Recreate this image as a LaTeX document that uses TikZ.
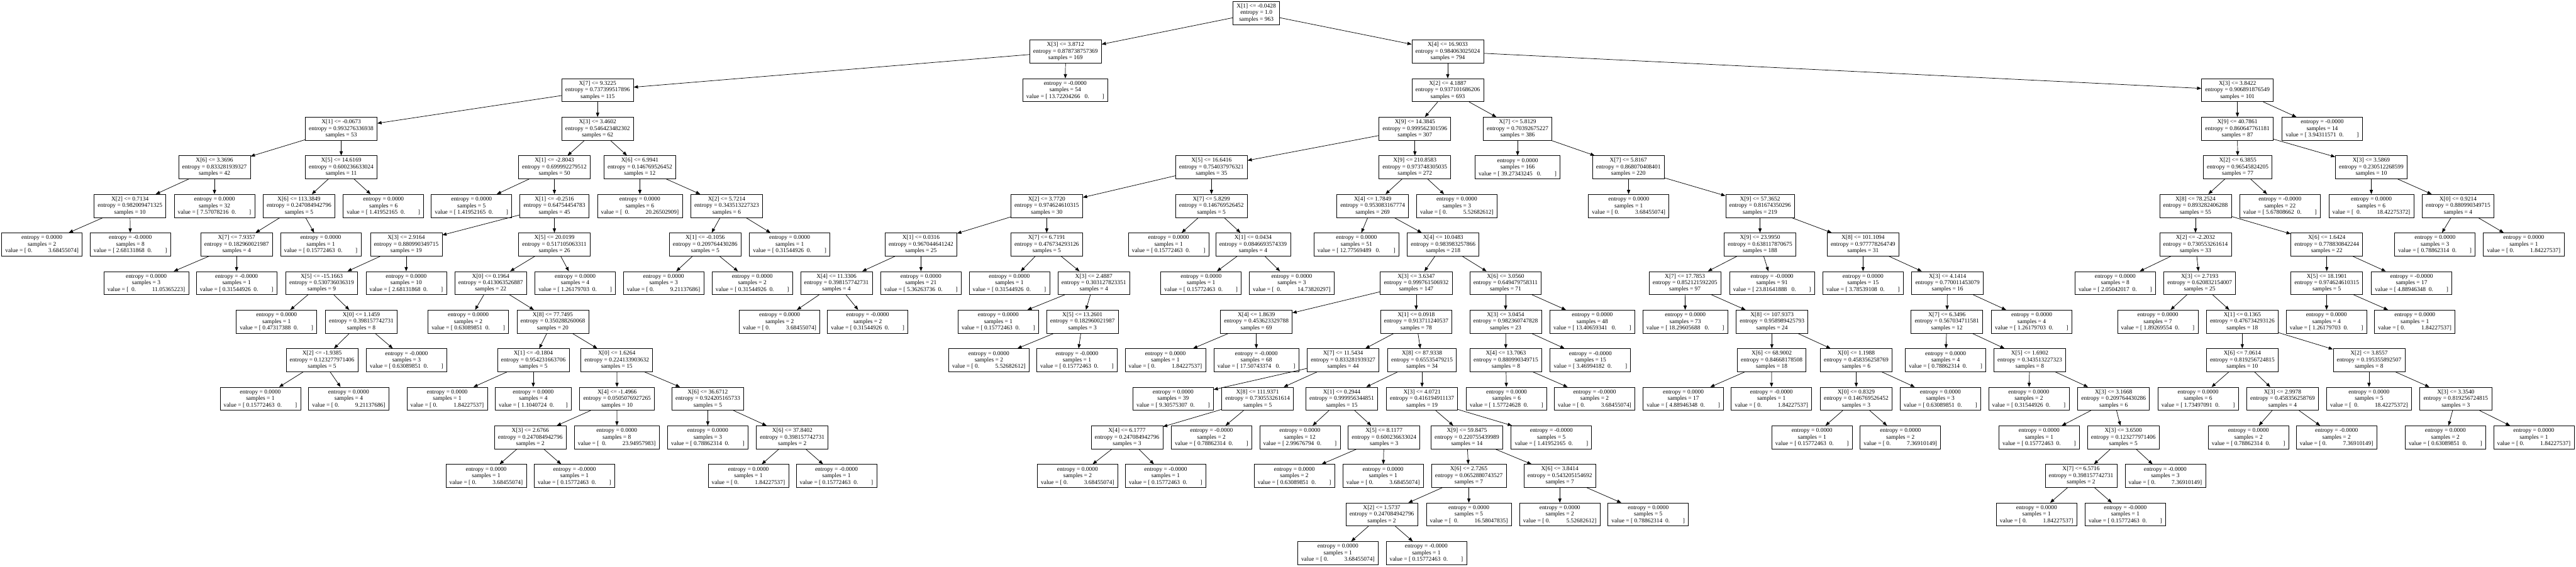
\documentclass[tikz,border=0pt]{standalone}
\usepackage{fontspec}
\setmainfont{Liberation Serif}
\usepackage{tikz}
\usetikzlibrary{arrows.meta}

\newcommand{\cnd}[4]{X[#1] <= #2\\entropy = #3\\samples = #4}
\newcommand{\lfs}[3]{entropy = #1\\samples = #2\\#3}
\newcommand{\vL}[1]{value = [ #1\hspace{.5em}0.\hspace{2.2em}]}
\newcommand{\vLw}[1]{value = [ #1\hspace{.75em}0.\hspace{2.2em}]}
\newcommand{\vR}[1]{value = [ 0.\hspace{2.7em}#1]}
\newcommand{\vRw}[1]{value = [\hspace{.25em} 0.\hspace{2.7em}#1]}

\tikzset{
  cond/.style={draw, rectangle, align=center, inner xsep=0.11cm, inner ysep=0.02cm,
    minimum height=0.71cm, line width=0.4pt, font=\fontsize{5.2}{5.74}\selectfont},
  leaf/.style={cond},
  arr/.style={-{Triangle[length=0.13cm,width=0.1cm]}, line width=0.4pt}
}

\begin{document}
\begin{tikzpicture}[x=0.01cm, y=-1.187cm]
\useasboundingbox (0,-0.337) rectangle (7927,14.347);

% root and first split
\node[cond] (n0) at (3866,0) {\cnd{1}{-0.0428}{1.0}{963}};
\node[cond] (n1) at (3279,1) {\cnd{3}{3.8712}{0.878738757369}{169}};
\draw[arr] (n0) -- (n1);
\node[cond] (n2) at (1839,2) {\cnd{7}{9.3225}{0.737399517896}{115}};
\draw[arr] (n1) -- (n2);
\node[cond] (n3) at (1050,3) {\cnd{1}{-0.0673}{0.993276336938}{53}};
\draw[arr] (n2) -- (n3);
\node[cond] (n4) at (660,4) {\cnd{6}{3.3696}{0.833281939327}{42}};
\draw[arr] (n3) -- (n4);
\node[cond] (n5) at (400,5) {\cnd{2}{0.7134}{0.982009471325}{10}};
\draw[arr] (n4) -- (n5);
\node[leaf] (n6) at (129,6) {\lfs{0.0000}{2}{\vR{3.68455074}}};
\draw[arr] (n5) -- (n6);
\node[leaf] (n7) at (401,6) {\lfs{-0.0000}{8}{\vL{2.68131868}}};
\draw[arr] (n5) -- (n7);
\node[leaf] (n8) at (660,5) {\lfs{0.0000}{32}{\vL{7.57078216}}};
\draw[arr] (n4) -- (n8);
\node[cond] (n9) at (1050,4) {\cnd{5}{14.6169}{0.600236633024}{11}};
\draw[arr] (n3) -- (n9);
\node[cond] (n10) at (920,5) {\cnd{6}{113.3849}{0.247084942796}{5}};
\draw[arr] (n9) -- (n10);
\node[cond] (n11) at (728,6) {\cnd{7}{7.9357}{0.182960021987}{4}};
\draw[arr] (n10) -- (n11);
\node[leaf] (n12) at (450,7) {\lfs{0.0000}{3}{\vRw{11.05365223}}};
\draw[arr] (n11) -- (n12);
\node[leaf] (n13) at (728,7) {\lfs{-0.0000}{1}{\vL{0.31544926}}};
\draw[arr] (n11) -- (n13);
\node[leaf] (n14) at (987,6) {\lfs{0.0000}{1}{\vL{0.15772463}}};
\draw[arr] (n10) -- (n14);
\node[leaf] (n15) at (1180,5) {\lfs{0.0000}{6}{\vL{1.41952165}}};
\draw[arr] (n9) -- (n15);
\node[cond] (n16) at (1839,3) {\cnd{3}{3.4602}{0.546423482302}{62}};
\draw[arr] (n2) -- (n16);
\node[cond] (n17) at (1706,4) {\cnd{1}{-2.8043}{0.699992279512}{50}};
\draw[arr] (n16) -- (n17);
\node[leaf] (n18) at (1451,5) {\lfs{0.0000}{5}{\vL{1.41952165}}};
\draw[arr] (n17) -- (n18);
\node[cond] (n19) at (1706,5) {\cnd{1}{-0.2516}{0.64754454783}{45}};
\draw[arr] (n17) -- (n19);
\node[cond] (n20) at (1250,6) {\cnd{3}{2.9164}{0.880990349715}{19}};
\draw[arr] (n19) -- (n20);
\node[cond] (n21) at (990,7) {\cnd{5}{-15.1663}{0.530736036319}{9}};
\draw[arr] (n20) -- (n21);
\node[leaf] (n22) at (851,8) {\lfs{0.0000}{1}{\vL{0.47317388}}};
\draw[arr] (n21) -- (n22);
\node[cond] (n23) at (1112,8) {\cnd{0}{1.1459}{0.398157742731}{8}};
\draw[arr] (n21) -- (n23);
\node[cond] (n24) at (991,9) {\cnd{2}{-1.9385}{0.123277971406}{5}};
\draw[arr] (n23) -- (n24);
\node[leaf] (n25) at (801,10) {\lfs{0.0000}{1}{\vL{0.15772463}}};
\draw[arr] (n24) -- (n25);
\node[leaf] (n26) at (1073,10) {\lfs{0.0000}{4}{\vR{9.21137686}}};
\draw[arr] (n24) -- (n26);
\node[leaf] (n27) at (1251,9) {\lfs{-0.0000}{3}{\vL{0.63089851}}};
\draw[arr] (n23) -- (n27);
\node[leaf] (n28) at (1250,7) {\lfs{0.0000}{10}{\vL{2.68131868}}};
\draw[arr] (n20) -- (n28);
\node[cond] (n29) at (1706,6) {\cnd{5}{20.0199}{0.517105063311}{26}};
\draw[arr] (n19) -- (n29);
\node[cond] (n30) at (1510,7) {\cnd{0}{0.1964}{0.413063526887}{22}};
\draw[arr] (n29) -- (n30);
\node[leaf] (n31) at (1441,8) {\lfs{0.0000}{2}{\vL{0.63089851}}};
\draw[arr] (n30) -- (n31);
\node[cond] (n32) at (1701,8) {\cnd{8}{77.7495}{0.350288260068}{20}};
\draw[arr] (n30) -- (n32);
\node[cond] (n33) at (1641,9) {\cnd{1}{-0.1804}{0.954231663706}{5}};
\draw[arr] (n32) -- (n33);
\node[leaf] (n34) at (1376,10) {\lfs{0.0000}{1}{\vR{1.84227537}}};
\draw[arr] (n33) -- (n34);
\node[leaf] (n35) at (1641,10) {\lfs{0.0000}{4}{value = [ 1.1040724\hspace{.5em}0.\hspace{1.95em}]}};
\draw[arr] (n33) -- (n35);
\node[cond] (n36) at (1898,9) {\cnd{0}{1.6264}{0.224133903632}{15}};
\draw[arr] (n32) -- (n36);
\node[cond] (n37) at (1899,10) {\cnd{4}{-1.4966}{0.0505076927265}{10}};
\draw[arr] (n36) -- (n37);
\node[cond] (n38) at (1632,11) {\cnd{3}{2.6766}{0.247084942796}{2}};
\draw[arr] (n37) -- (n38);
\node[leaf] (n39) at (1496,12) {\lfs{0.0000}{1}{\vR{3.68455074}}};
\draw[arr] (n38) -- (n39);
\node[leaf] (n40) at (1768,12) {\lfs{-0.0000}{1}{\vL{0.15772463}}};
\draw[arr] (n38) -- (n40);
\node[leaf] (n41) at (1898,11) {\lfs{0.0000}{8}{\vRw{23.94957983}}};
\draw[arr] (n37) -- (n41);
\node[cond] (n42) at (2178,10) {\cnd{6}{36.6712}{0.924205165733}{5}};
\draw[arr] (n36) -- (n42);
\node[leaf] (n43) at (2178,11) {\lfs{0.0000}{3}{\vL{0.78862314}}};
\draw[arr] (n42) -- (n43);
\node[cond] (n44) at (2438,11) {\cnd{6}{37.8402}{0.398157742731}{2}};
\draw[arr] (n42) -- (n44);
\node[leaf] (n45) at (2303,12) {\lfs{0.0000}{1}{\vR{1.84227537}}};
\draw[arr] (n44) -- (n45);
\node[leaf] (n46) at (2574,12) {\lfs{-0.0000}{1}{\vL{0.15772463}}};
\draw[arr] (n44) -- (n46);
\node[leaf] (n47) at (1770,7) {\lfs{0.0000}{4}{\vL{1.26179703}}};
\draw[arr] (n29) -- (n47);
\node[cond] (n48) at (1969,4) {\cnd{6}{6.9941}{0.146769526452}{12}};
\draw[arr] (n16) -- (n48);
\node[leaf] (n49) at (1969,5) {\lfs{0.0000}{6}{\vRw{20.26502909}}};
\draw[arr] (n48) -- (n49);
\node[cond] (n50) at (2236,5) {\cnd{2}{5.7214}{0.343513227323}{6}};
\draw[arr] (n48) -- (n50);
\node[cond] (n51) at (2170,6) {\cnd{1}{-0.1056}{0.209764430286}{5}};
\draw[arr] (n50) -- (n51);
\node[leaf] (n52) at (2042,7) {\lfs{0.0000}{3}{\vR{9.21137686}}};
\draw[arr] (n51) -- (n52);
\node[leaf] (n53) at (2315,7) {\lfs{0.0000}{2}{\vL{0.31544926}}};
\draw[arr] (n51) -- (n53);
\node[leaf] (n54) at (2430,6) {\lfs{0.0000}{1}{\vL{0.31544926}}};
\draw[arr] (n50) -- (n54);
\node[leaf] (n55) at (3278,2) {\lfs{-0.0000}{54}{\vLw{13.72204266}}};
\draw[arr] (n1) -- (n55);

% right half
\node[cond] (n56) at (4455,1) {\cnd{4}{16.9033}{0.984063025024}{794}};
\draw[arr] (n0) -- (n56);
\node[cond] (n57) at (4455,2) {\cnd{2}{4.1887}{0.937101686206}{693}};
\draw[arr] (n56) -- (n57);
\node[cond] (n58) at (4354,3) {\cnd{9}{14.3845}{0.999562301596}{307}};
\draw[arr] (n57) -- (n58);
\node[cond] (n59) at (3728,4) {\cnd{5}{16.6416}{0.754037976321}{35}};
\draw[arr] (n58) -- (n59);
\node[cond] (n60) at (3221,5) {\cnd{2}{3.7720}{0.974624610315}{30}};
\draw[arr] (n59) -- (n60);
\node[cond] (n61) at (2834,6) {\cnd{1}{0.0316}{0.967044641242}{25}};
\draw[arr] (n60) -- (n61);
\node[cond] (n62) at (2574,7) {\cnd{4}{11.3306}{0.398157742731}{4}};
\draw[arr] (n61) -- (n62);
\node[leaf] (n63) at (2399,8) {\lfs{0.0000}{2}{\vR{3.68455074}}};
\draw[arr] (n62) -- (n63);
\node[leaf] (n64) at (2670,8) {\lfs{-0.0000}{2}{\vL{0.31544926}}};
\draw[arr] (n62) -- (n64);
\node[leaf] (n65) at (2834,7) {\lfs{0.0000}{21}{\vL{5.36263736}}};
\draw[arr] (n61) -- (n65);
\node[cond] (n66) at (3221,6) {\cnd{7}{6.7191}{0.476734293126}{5}};
\draw[arr] (n60) -- (n66);
\node[leaf] (n67) at (3106,7) {\lfs{0.0000}{1}{\vL{0.31544926}}};
\draw[arr] (n66) -- (n67);
\node[cond] (n68) at (3366,7) {\cnd{3}{2.4887}{0.303127823351}{4}};
\draw[arr] (n66) -- (n68);
\node[leaf] (n69) at (3072,8) {\lfs{0.0000}{1}{\vL{0.15772463}}};
\draw[arr] (n68) -- (n69);
\node[cond] (n70) at (3331,8) {\cnd{5}{13.2601}{0.182960021987}{3}};
\draw[arr] (n68) -- (n70);
\node[leaf] (n71) at (3043,9) {\lfs{0.0000}{2}{\vR{5.52682612}}};
\draw[arr] (n70) -- (n71);
\node[leaf] (n72) at (3314,9) {\lfs{-0.0000}{1}{\vL{0.15772463}}};
\draw[arr] (n70) -- (n72);
\node[cond] (n73) at (3728,5) {\cnd{7}{5.8299}{0.146769526452}{5}};
\draw[arr] (n59) -- (n73);
\node[leaf] (n74) at (3596,6) {\lfs{0.0000}{1}{\vL{0.15772463}}};
\draw[arr] (n73) -- (n74);
\node[cond] (n75) at (3856,6) {\cnd{1}{0.0434}{0.0846693574339}{4}};
\draw[arr] (n73) -- (n75);
\node[leaf] (n76) at (3696,7) {\lfs{0.0000}{1}{\vL{0.15772463}}};
\draw[arr] (n75) -- (n76);
\node[leaf] (n77) at (3975,7) {\lfs{0.0000}{3}{\vRw{14.73820297}}};
\draw[arr] (n75) -- (n77);
\node[cond] (n78) at (4354,4) {\cnd{9}{210.8583}{0.973748305035}{272}};
\draw[arr] (n58) -- (n78);
\node[cond] (n79) at (4224,5) {\cnd{4}{1.7849}{0.953083167774}{269}};
\draw[arr] (n78) -- (n79);
\node[leaf] (n80) at (4174,6) {\lfs{0.0000}{51}{\vLw{12.77569489}}};
\draw[arr] (n79) -- (n80);
\node[cond] (n81) at (4441,6) {\cnd{4}{10.0483}{0.983983257866}{218}};
\draw[arr] (n79) -- (n81);
\node[cond] (n82) at (4358,7) {\cnd{3}{3.6347}{0.999761506932}{147}};
\draw[arr] (n81) -- (n82);
\node[cond] (n83) at (3866,8) {\cnd{4}{1.8639}{0.453623329788}{69}};
\draw[arr] (n82) -- (n83);
\node[leaf] (n84) at (3586,9) {\lfs{0.0000}{1}{\vR{1.84227537}}};
\draw[arr] (n83) -- (n84);
\node[leaf] (n85) at (3866,9) {\lfs{-0.0000}{68}{\vLw{17.50743374}}};
\draw[arr] (n83) -- (n85);
\node[cond] (n86) at (4358,8) {\cnd{1}{0.0918}{0.913711240537}{78}};
\draw[arr] (n82) -- (n86);
\node[cond] (n87) at (4133,9) {\cnd{7}{11.5434}{0.833281939327}{44}};
\draw[arr] (n86) -- (n87);
\node[leaf] (n88) at (3610,10) {\lfs{0.0000}{39}{\vL{9.30575307}}};
\draw[arr] (n87) -- (n88);
\node[cond] (n89) at (3870,10) {\cnd{8}{111.9371}{0.730553261614}{5}};
\draw[arr] (n87) -- (n89);
\node[cond] (n90) at (3468,11) {\cnd{4}{6.1777}{0.247084942796}{3}};
\draw[arr] (n89) -- (n90);
\node[leaf] (n91) at (3316,12) {\lfs{0.0000}{2}{\vR{3.68455074}}};
\draw[arr] (n90) -- (n91);
\node[leaf] (n92) at (3587,12) {\lfs{-0.0000}{1}{\vL{0.15772463}}};
\draw[arr] (n90) -- (n92);
\node[leaf] (n93) at (3728,11) {\lfs{-0.0000}{2}{\vL{0.78862314}}};
\draw[arr] (n89) -- (n93);
\node[cond] (n94) at (4376,9) {\cnd{8}{87.9338}{0.65535479215}{34}};
\draw[arr] (n86) -- (n94);
\node[cond] (n95) at (4129,10) {\cnd{1}{0.2944}{0.999956344851}{15}};
\draw[arr] (n94) -- (n95);
\node[leaf] (n96) at (4000,11) {\lfs{0.0000}{12}{\vL{2.99676794}}};
\draw[arr] (n95) -- (n96);
\node[cond] (n97) at (4259,11) {\cnd{5}{8.1177}{0.600236633024}{3}};
\draw[arr] (n95) -- (n97);
\node[leaf] (n98) at (3983,12) {\lfs{0.0000}{2}{\vL{0.63089851}}};
\draw[arr] (n97) -- (n98);
\node[leaf] (n99) at (4256,12) {\lfs{0.0000}{1}{\vR{3.68455074}}};
\draw[arr] (n97) -- (n99);
\node[cond] (n100) at (4376,10) {\cnd{3}{4.0721}{0.416194911137}{19}};
\draw[arr] (n94) -- (n100);
\node[cond] (n101) at (4514,11) {\cnd{9}{59.8475}{0.220755439989}{14}};
\draw[arr] (n100) -- (n101);
\node[cond] (n102) at (4520,12) {\cnd{6}{2.7265}{0.0652880743527}{7}};
\draw[arr] (n101) -- (n102);
\node[cond] (n103) at (4252,13) {\cnd{2}{1.5737}{0.247084942796}{2}};
\draw[arr] (n102) -- (n103);
\node[leaf] (n104) at (4117,14) {\lfs{0.0000}{1}{\vR{3.68455074}}};
\draw[arr] (n103) -- (n104);
\node[leaf] (n105) at (4389,14) {\lfs{-0.0000}{1}{\vL{0.15772463}}};
\draw[arr] (n103) -- (n105);
\node[leaf] (n106) at (4520,13) {\lfs{0.0000}{5}{\vRw{16.58047835}}};
\draw[arr] (n102) -- (n106);
\node[cond] (n107) at (4800,12) {\cnd{6}{3.8414}{0.543205154692}{7}};
\draw[arr] (n101) -- (n107);
\node[leaf] (n108) at (4800,13) {\lfs{0.0000}{2}{\vR{5.52682612}}};
\draw[arr] (n107) -- (n108);
\node[leaf] (n109) at (5072,13) {\lfs{0.0000}{5}{\vL{0.78862314}}};
\draw[arr] (n107) -- (n109);
\node[leaf] (n110) at (4774,11) {\lfs{-0.0000}{5}{\vL{1.41952165}}};
\draw[arr] (n100) -- (n110);
\node[cond] (n111) at (4633,7) {\cnd{6}{3.0560}{0.649479758311}{71}};
\draw[arr] (n81) -- (n111);
\node[cond] (n112) at (4633,8) {\cnd{3}{3.0454}{0.982360747828}{23}};
\draw[arr] (n111) -- (n112);
\node[cond] (n113) at (4634,9) {\cnd{4}{13.7063}{0.880990349715}{8}};
\draw[arr] (n112) -- (n113);
\node[leaf] (n114) at (4636,10) {\lfs{0.0000}{6}{\vL{1.57724628}}};
\draw[arr] (n113) -- (n114);
\node[leaf] (n115) at (4907,10) {\lfs{-0.0000}{2}{\vR{3.68455074}}};
\draw[arr] (n113) -- (n115);
\node[leaf] (n116) at (4894,9) {\lfs{-0.0000}{15}{\vL{3.46994182}}};
\draw[arr] (n112) -- (n116);
\node[leaf] (n117) at (4900,8) {\lfs{0.0000}{48}{\vLw{13.40659341}}};
\draw[arr] (n111) -- (n117);
\node[leaf] (n118) at (4483,5) {\lfs{0.0000}{3}{\vR{5.52682612}}};
\draw[arr] (n78) -- (n118);
\node[cond] (n119) at (4670,3) {\cnd{7}{5.8129}{0.70392675227}{386}};
\draw[arr] (n57) -- (n119);
\node[leaf] (n120) at (4670,4) {\lfs{0.0000}{166}{\vLw{39.27343245}}};
\draw[arr] (n119) -- (n120);
\node[cond] (n121) at (5011,4) {\cnd{7}{5.8167}{0.868070408401}{220}};
\draw[arr] (n119) -- (n121);
\node[leaf] (n122) at (5012,5) {\lfs{0.0000}{1}{\vR{3.68455074}}};
\draw[arr] (n121) -- (n122);
\node[cond] (n123) at (5416,5) {\cnd{9}{57.3652}{0.81674350296}{219}};
\draw[arr] (n121) -- (n123);
\node[cond] (n124) at (5416,6) {\cnd{9}{23.9950}{0.638117870675}{188}};
\draw[arr] (n123) -- (n124);
\node[cond] (n125) at (5185,7) {\cnd{7}{17.7853}{0.852121592205}{97}};
\draw[arr] (n124) -- (n125);
\node[leaf] (n126) at (5186,8) {\lfs{0.0000}{73}{\vLw{18.29605688}}};
\draw[arr] (n125) -- (n126);
\node[cond] (n127) at (5453,8) {\cnd{8}{107.9373}{0.958989425793}{24}};
\draw[arr] (n125) -- (n127);
\node[cond] (n128) at (5452,9) {\cnd{6}{68.9002}{0.84668178508}{18}};
\draw[arr] (n127) -- (n128);
\node[leaf] (n129) at (5180,10) {\lfs{0.0000}{17}{\vL{4.88946348}}};
\draw[arr] (n128) -- (n129);
\node[leaf] (n130) at (5451,10) {\lfs{-0.0000}{1}{\vR{1.84227537}}};
\draw[arr] (n128) -- (n130);
\node[cond] (n131) at (5712,9) {\cnd{0}{1.1988}{0.458356258769}{6}};
\draw[arr] (n127) -- (n131);
\node[cond] (n132) at (5712,10) {\cnd{0}{0.8329}{0.146769526452}{3}};
\draw[arr] (n131) -- (n132);
\node[leaf] (n133) at (5576,11) {\lfs{0.0000}{1}{\vL{0.15772463}}};
\draw[arr] (n132) -- (n133);
\node[leaf] (n134) at (5848,11) {\lfs{0.0000}{2}{\vR{7.36910149}}};
\draw[arr] (n132) -- (n134);
\node[leaf] (n135) at (5971,10) {\lfs{0.0000}{3}{\vL{0.63089851}}};
\draw[arr] (n131) -- (n135);
\node[leaf] (n136) at (5453,7) {\lfs{-0.0000}{91}{\vLw{23.81641888}}};
\draw[arr] (n124) -- (n136);
\node[cond] (n137) at (5733,6) {\cnd{8}{101.1094}{0.977778264749}{31}};
\draw[arr] (n123) -- (n137);
\node[leaf] (n138) at (5733,7) {\lfs{0.0000}{15}{\vL{3.78539108}}};
\draw[arr] (n137) -- (n138);
\node[cond] (n139) at (5993,7) {\cnd{3}{4.1414}{0.770011453079}{16}};
\draw[arr] (n137) -- (n139);
\node[cond] (n140) at (5991,8) {\cnd{7}{6.3496}{0.567034711581}{12}};
\draw[arr] (n139) -- (n140);
\node[leaf] (n141) at (5987,9) {\lfs{0.0000}{4}{\vL{0.78862314}}};
\draw[arr] (n140) -- (n141);
\node[cond] (n142) at (6246,9) {\cnd{5}{1.6902}{0.343513227323}{8}};
\draw[arr] (n140) -- (n142);
\node[leaf] (n143) at (6243,10) {\lfs{0.0000}{2}{\vL{0.31544926}}};
\draw[arr] (n142) -- (n143);
\node[cond] (n144) at (6504,10) {\cnd{3}{3.1668}{0.209764430286}{6}};
\draw[arr] (n142) -- (n144);
\node[leaf] (n145) at (6275,11) {\lfs{0.0000}{1}{\vL{0.15772463}}};
\draw[arr] (n144) -- (n145);
\node[cond] (n146) at (6534,11) {\cnd{3}{3.6500}{0.123277971406}{5}};
\draw[arr] (n144) -- (n146);
\node[cond] (n147) at (6404,12) {\cnd{7}{6.5716}{0.398157742731}{2}};
\draw[arr] (n146) -- (n147);
\node[leaf] (n148) at (6267,13) {\lfs{0.0000}{1}{\vR{1.84227537}}};
\draw[arr] (n147) -- (n148);
\node[leaf] (n149) at (6540,13) {\lfs{-0.0000}{1}{\vL{0.15772463}}};
\draw[arr] (n147) -- (n149);
\node[leaf] (n150) at (6663,12) {\lfs{-0.0000}{3}{\vR{7.36910149}}};
\draw[arr] (n146) -- (n150);
\node[leaf] (n151) at (6252,8) {\lfs{0.0000}{4}{\vL{1.26179703}}};
\draw[arr] (n139) -- (n151);

% far right branch
\node[cond] (n152) at (6885,2) {\cnd{3}{3.8422}{0.906891876549}{101}};
\draw[arr] (n56) -- (n152);
\node[cond] (n153) at (6885,3) {\cnd{9}{40.7861}{0.860647761181}{87}};
\draw[arr] (n152) -- (n153);
\node[cond] (n154) at (6886,4) {\cnd{2}{6.3855}{0.96545824205}{77}};
\draw[arr] (n153) -- (n154);
\node[cond] (n155) at (6756,5) {\cnd{8}{78.2524}{0.893282406288}{55}};
\draw[arr] (n154) -- (n155);
\node[cond] (n156) at (6756,6) {\cnd{2}{-2.2032}{0.730553261614}{33}};
\draw[arr] (n155) -- (n156);
\node[leaf] (n157) at (6509,7) {\lfs{0.0000}{8}{\vL{2.05042017}}};
\draw[arr] (n156) -- (n157);
\node[cond] (n158) at (6769,7) {\cnd{3}{2.7193}{0.620832154007}{25}};
\draw[arr] (n156) -- (n158);
\node[leaf] (n159) at (6640,8) {\lfs{0.0000}{7}{\vL{1.89269554}}};
\draw[arr] (n158) -- (n159);
\node[cond] (n160) at (6900,8) {\cnd{1}{0.1365}{0.476734293126}{18}};
\draw[arr] (n158) -- (n160);
\node[cond] (n161) at (6900,9) {\cnd{6}{7.0614}{0.819256724815}{10}};
\draw[arr] (n160) -- (n161);
\node[leaf] (n162) at (6764,10) {\lfs{0.0000}{6}{\vL{1.73497091}}};
\draw[arr] (n161) -- (n162);
\node[cond] (n163) at (7024,10) {\cnd{3}{2.9978}{0.458356258769}{4}};
\draw[arr] (n161) -- (n163);
\node[leaf] (n164) at (6919,11) {\lfs{0.0000}{2}{\vL{0.78862314}}};
\draw[arr] (n163) -- (n164);
\node[leaf] (n165) at (7190,11) {\lfs{-0.0000}{2}{\vR{7.36910149}}};
\draw[arr] (n163) -- (n165);
\node[cond] (n166) at (7290,9) {\cnd{2}{3.8557}{0.195355892507}{8}};
\draw[arr] (n160) -- (n166);
\node[leaf] (n167) at (7290,10) {\lfs{0.0000}{5}{\vRw{18.42275372}}};
\draw[arr] (n166) -- (n167);
\node[cond] (n168) at (7557,10) {\cnd{3}{3.3540}{0.819256724815}{3}};
\draw[arr] (n166) -- (n168);
\node[leaf] (n169) at (7525,11) {\lfs{0.0000}{2}{\vL{0.63089851}}};
\draw[arr] (n168) -- (n169);
\node[leaf] (n170) at (7797,11) {\lfs{0.0000}{1}{\vR{1.84227537}}};
\draw[arr] (n168) -- (n170);
\node[cond] (n171) at (7160,6) {\cnd{6}{1.6424}{0.778830842244}{22}};
\draw[arr] (n155) -- (n171);
\node[cond] (n172) at (7160,7) {\cnd{5}{18.1901}{0.974624610315}{5}};
\draw[arr] (n171) -- (n172);
\node[leaf] (n173) at (7159,8) {\lfs{0.0000}{4}{\vL{1.26179703}}};
\draw[arr] (n172) -- (n173);
\node[leaf] (n174) at (7431,8) {\lfs{0.0000}{1}{\vR{1.84227537}}};
\draw[arr] (n172) -- (n174);
\node[leaf] (n175) at (7421,7) {\lfs{-0.0000}{17}{\vL{4.88946348}}};
\draw[arr] (n171) -- (n175);
\node[leaf] (n176) at (7016,5) {\lfs{-0.0000}{22}{\vL{5.67808662}}};
\draw[arr] (n154) -- (n176);
\node[cond] (n177) at (7297,4) {\cnd{3}{3.5869}{0.230512268599}{10}};
\draw[arr] (n153) -- (n177);
\node[leaf] (n178) at (7297,5) {\lfs{0.0000}{6}{\vRw{18.42275372}}};
\draw[arr] (n177) -- (n178);
\node[cond] (n179) at (7564,5) {\cnd{0}{0.9214}{0.880990349715}{4}};
\draw[arr] (n177) -- (n179);
\node[leaf] (n180) at (7493,6) {\lfs{0.0000}{3}{\vL{0.78862314}}};
\draw[arr] (n179) -- (n180);
\node[leaf] (n181) at (7766,6) {\lfs{0.0000}{1}{\vR{1.84227537}}};
\draw[arr] (n179) -- (n181);
\node[leaf] (n182) at (7146,3) {\lfs{-0.0000}{14}{\vL{3.94311571}}};
\draw[arr] (n152) -- (n182);
\end{tikzpicture}
\end{document}
